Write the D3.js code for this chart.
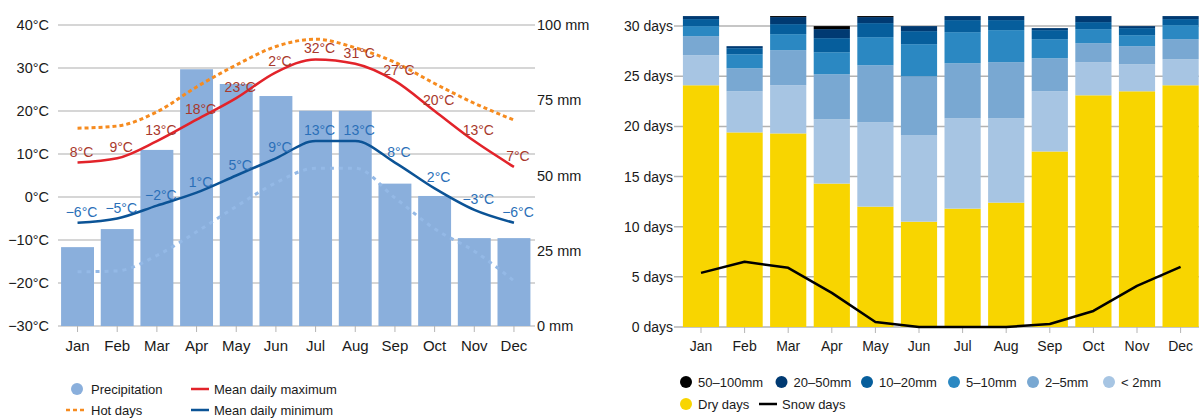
<!DOCTYPE html>
<html><head><meta charset="utf-8">
<script src="https://cdn.jsdelivr.net/npm/d3@7/dist/d3.min.js"></script>
<style>
body{margin:0;background:#fff;}
svg text{font-family:"Liberation Sans",Arial,sans-serif;}
</style></head>
<body><svg id="c" width="1199" height="419"></svg>
<script>
// ---- Data ----
const months = ["Jan","Feb","Mar","Apr","May","Jun","Jul","Aug","Sep","Oct","Nov","Dec"];
const precip = [26.2, 32.2, 58.5, 85.3, 80.4, 76.4, 71.5, 71.5, 47.3, 43.2, 29.2, 29.2];
const tMax = [8, 9, 13, 18, 23, 29, 32, 31, 27, 20, 13, 7];
const tMaxLabels = ["8°C","9°C","13°C","18°C","23°C","2°C","32°C","31°C","27°C","20°C","13°C","7°C"];
const tMin = [-6, -5, -2, 1, 5, 9, 13, 13, 8, 2, -3, -6];
const tMinLabels = ["−6°C","−5°C","−2°C","1°C","5°C","9°C","13°C","13°C","8°C","2°C","−3°C","−6°C"];
const hotDays = [16, 16.5, 19.8, 25.6, 30.7, 35, 36.7, 34.7, 31.3, 26.4, 21.8, 17.9];
const coldNights = [-17.4, -17.2, -13.6, -8.1, -2.2, 3.3, 6.7, 6.7, -0.2, -7.4, -12.6, -19.5];
const tempTicks = [-30, -20, -10, 0, 10, 20, 30, 40];
const mmTicks = [0, 25, 50, 75, 100];

const dryDays = [24.1, 19.4, 19.3, 14.3, 12.0, 10.5, 11.8, 12.4, 17.5, 23.1, 23.5, 24.1];
const pLt2   = [3.0, 4.1, 4.8, 6.4, 8.4, 8.6, 9.0, 8.4, 6.0, 3.3, 2.7, 2.6];
const p2_5   = [1.9, 2.3, 3.5, 4.5, 5.7, 5.9, 5.5, 5.6, 3.3, 1.9, 1.8, 2.0];
const p5_10  = [1.0, 1.4, 1.6, 2.2, 2.8, 3.2, 3.1, 3.2, 1.9, 1.4, 1.1, 1.4];
const p10_20 = [0.7, 0.6, 1.0, 1.4, 1.4, 1.3, 1.2, 1.0, 0.9, 0.7, 0.7, 0.6];
const p20_50 = [0.3, 0.2, 0.7, 0.9, 0.6, 0.5, 0.4, 0.4, 0.2, 0.6, 0.2, 0.3];
const p50_100= [0, 0, 0.1, 0.3, 0.1, 0, 0, 0, 0, 0, 0, 0];
const snowDays = [5.4, 6.5, 5.9, 3.4, 0.5, 0, 0, 0, 0.3, 1.6, 4.1, 6.0];
const dayTicks = [0, 5, 10, 15, 20, 25, 30];

const svg = d3.select("#c");
const txt = "#1a1a1a";

// ---------------- Left chart ----------------
const xL = d3.scaleBand().domain(months).range([57.7, 533.8]).paddingInner(0.17).paddingOuter(0.085);
const yT = d3.scaleLinear().domain([-30, 40]).range([326, 25]);
const yMM = d3.scaleLinear().domain([0, 100]).range([326, 25]);
const cx = m => xL(m) + xL.bandwidth() / 2;

const L = svg.append("g");
// gridlines
L.append("g").selectAll("line").data(tempTicks).join("line")
  .attr("x1", 58).attr("x2", 535).attr("y1", d => yT(d)).attr("y2", d => yT(d))
  .attr("stroke", "#c9c9c9").attr("stroke-width", 1.5);
// left axis labels
const axL = L.append("g").attr("transform", "translate(49,0)")
  .call(d3.axisLeft(yT).tickValues(tempTicks).tickSize(0).tickPadding(0).tickFormat(d => (d < 0 ? "−" + Math.abs(d) : d) + "°C"));
axL.select(".domain").remove();
axL.selectAll("text").attr("font-size", 14.5).attr("fill", txt);
// right axis labels
const axR = L.append("g").attr("transform", "translate(537,0)")
  .call(d3.axisRight(yMM).tickValues(mmTicks).tickSize(0).tickPadding(0).tickFormat(d => d + " mm"));
axR.select(".domain").remove();
axR.selectAll("text").attr("font-size", 14.5).attr("fill", txt);
// bottom axis
const axB = L.append("g").attr("transform", "translate(0,326)")
  .call(d3.axisBottom(xL).tickSize(6).tickPadding(8));
axB.select(".domain").remove();
axB.selectAll("line").attr("stroke", "#b5b5b5");
axB.selectAll("text").attr("font-size", 15).attr("fill", txt);

// bars
L.append("g").selectAll("rect").data(months).join("rect")
  .attr("x", m => xL(m)).attr("width", xL.bandwidth())
  .attr("y", (m, i) => yMM(precip[i])).attr("height", (m, i) => yMM(0) - yMM(precip[i]))
  .attr("fill", "#8aafdc");

const lineT = d3.line().x((d, i) => cx(months[i])).y(d => yT(d)).curve(d3.curveMonotoneX);
L.append("path").datum(coldNights).attr("d", lineT).attr("fill", "none")
  .attr("stroke", "#94b9e6").attr("stroke-width", 3).attr("stroke-dasharray", "4,5");
L.append("path").datum(hotDays).attr("d", lineT).attr("fill", "none")
  .attr("stroke", "#f68b1f").attr("stroke-width", 3).attr("stroke-dasharray", "4,3");
L.append("path").datum(tMax).attr("d", lineT).attr("fill", "none")
  .attr("stroke", "#e2232a").attr("stroke-width", 2.5);
L.append("path").datum(tMin).attr("d", lineT).attr("fill", "none")
  .attr("stroke", "#0b5396").attr("stroke-width", 2.5);

// data labels
L.append("g").selectAll("text").data(tMax).join("text")
  .attr("x", (d, i) => cx(months[i]) + 4).attr("y", d => yT(d) - 6)
  .attr("text-anchor", "middle").attr("font-size", 14).attr("fill", "#a8382c")
  .text((d, i) => tMaxLabels[i]);
L.append("g").selectAll("text").data(tMin).join("text")
  .attr("x", (d, i) => cx(months[i]) + 4).attr("y", d => yT(d) - 6)
  .attr("text-anchor", "middle").attr("font-size", 14).attr("fill", "#2a6fb8")
  .text((d, i) => tMinLabels[i]);

// left legend
const lg = L.append("g").attr("font-size", 13).attr("fill", txt);
lg.append("circle").attr("cx", 77).attr("cy", 389).attr("r", 6).attr("fill", "#8aafdc");
lg.append("text").attr("x", 91).attr("y", 394).text("Precipitation");
lg.append("line").attr("x1", 66).attr("x2", 87).attr("y1", 410).attr("y2", 410)
  .attr("stroke", "#f68b1f").attr("stroke-width", 2.5).attr("stroke-dasharray", "4,3");
lg.append("text").attr("x", 91).attr("y", 415).text("Hot days");
lg.append("line").attr("x1", 191).attr("x2", 209).attr("y1", 389).attr("y2", 389)
  .attr("stroke", "#e2232a").attr("stroke-width", 2.5);
lg.append("text").attr("x", 214).attr("y", 394).text("Mean daily maximum");
lg.append("line").attr("x1", 191).attr("x2", 209).attr("y1", 410).attr("y2", 410)
  .attr("stroke", "#0b5396").attr("stroke-width", 2.5);
lg.append("text").attr("x", 214).attr("y", 415).text("Mean daily minimum");

// ---------------- Right chart ----------------
const xR = d3.scaleBand().domain(months).range([679.2, 1202.4]).paddingInner(0.17).paddingOuter(0.085);
const yD = d3.scaleLinear().domain([0, 30]).range([327, 26.1]);
const cxR = m => xR(m) + xR.bandwidth() / 2;
const R = svg.append("g");

R.append("g").selectAll("line").data(dayTicks).join("line")
  .attr("x1", 674).attr("x2", 1199).attr("y1", d => yD(d)).attr("y2", d => yD(d))
  .attr("stroke", "#b3b3b3").attr("stroke-width", 1.5);
const axD = R.append("g").attr("transform", "translate(673,0)")
  .call(d3.axisLeft(yD).tickValues(dayTicks).tickSize(0).tickPadding(0).tickFormat(d => d + " days"));
axD.select(".domain").remove();
axD.selectAll("text").attr("font-size", 14).attr("fill", txt);
const axBR = R.append("g").attr("transform", "translate(0,327)")
  .call(d3.axisBottom(xR).tickSize(6).tickPadding(8));
axBR.select(".domain").remove();
axBR.selectAll("line").attr("stroke", "#b5b5b5");
axBR.selectAll("text").attr("font-size", 14).attr("fill", txt);

const seriesKeys = ["dry", "lt2", "p2_5", "p5_10", "p10_20", "p20_50", "p50_100"];
const seriesArr = [dryDays, pLt2, p2_5, p5_10, p10_20, p20_50, p50_100];
const colors = ["#f8d500", "#a7c5e3", "#79a8d2", "#2b88c2", "#065e9c", "#003a72", "#000000"];
const table = months.map((m, i) => {
  const o = { month: m };
  seriesKeys.forEach((k, j) => o[k] = seriesArr[j][i]);
  return o;
});
const stacked = d3.stack().keys(seriesKeys)(table);
R.append("g").selectAll("g").data(stacked).join("g").attr("fill", (d, i) => colors[i])
  .selectAll("rect").data(d => d).join("rect")
  .attr("x", d => xR(d.data.month)).attr("width", xR.bandwidth())
  .attr("y", d => yD(d[1])).attr("height", d => yD(d[0]) - yD(d[1]));

const lineS = d3.line().x((d, i) => cxR(months[i])).y(d => yD(d));
R.append("path").datum(snowDays).attr("d", lineS).attr("fill", "none")
  .attr("stroke", "#000").attr("stroke-width", 2.5).attr("stroke-linejoin", "round");

// right legend
const rl = R.append("g").attr("font-size", 13).attr("fill", txt);
const legItems = [
  { label: "50–100mm", c: "#000000", x: 686 },
  { label: "20–50mm", c: "#003a72", x: 781.5 },
  { label: "10–20mm", c: "#065e9c", x: 867 },
  { label: "5–10mm", c: "#2b88c2", x: 954 },
  { label: "2–5mm", c: "#79a8d2", x: 1033 },
  { label: "< 2mm", c: "#a7c5e3", x: 1109 }
];
legItems.forEach(d => {
  rl.append("circle").attr("cx", d.x).attr("cy", 382).attr("r", 6).attr("fill", d.c);
  rl.append("text").attr("x", d.x + 12).attr("y", 387).text(d.label);
});
rl.append("circle").attr("cx", 686).attr("cy", 404).attr("r", 6).attr("fill", "#f8d500");
rl.append("text").attr("x", 698).attr("y", 409).text("Dry days");
rl.append("line").attr("x1", 759).attr("x2", 777).attr("y1", 404).attr("y2", 404)
  .attr("stroke", "#000").attr("stroke-width", 2.5);
rl.append("text").attr("x", 782).attr("y", 409).text("Snow days");
</script></body></html>
